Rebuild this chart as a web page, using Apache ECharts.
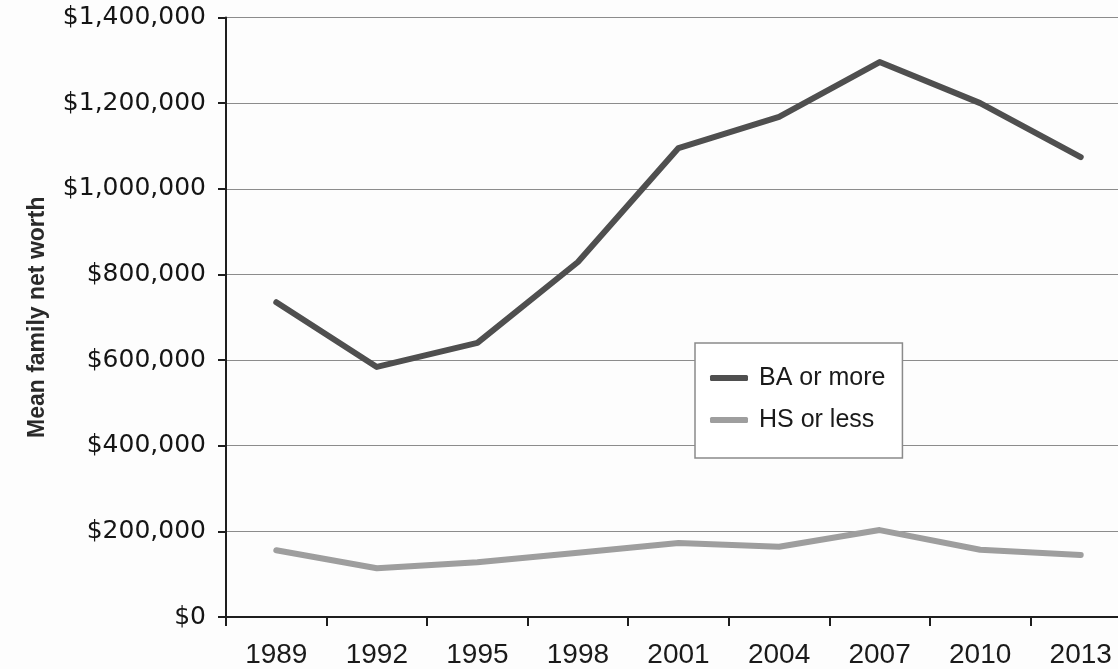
<!DOCTYPE html>
<html>
<head>
<meta charset="utf-8">
<title>Mean family net worth by education</title>
<script src="https://cdn.jsdelivr.net/npm/echarts@6/dist/echarts.min.js"></script>
<style>
  html, body { margin: 0; padding: 0; background: #fdfdfd; overflow: hidden; }
  /* plot runs slightly past the right edge of the window */
  #chart { width: 1131px; height: 669px; }
</style>
</head>
<body>
<div id="chart"></div>
<script>
// Survey years
const years = ['1989', '1992', '1995', '1998', '2001', '2004', '2007', '2010', '2013'];
// Mean family net worth, households headed by someone with a BA or more
const baOrMore = [735000, 584000, 640000, 829000, 1095000, 1168000, 1296000, 1200000, 1074000];
// Mean family net worth, households headed by someone with HS or less
const hsOrLess = [156000, 114000, 128000, 150000, 173000, 164000, 203000, 157000, 145000];
// Value axis range and step
const yMin = 0;
const yMax = 1400000;
const yStep = 200000;

const chart = echarts.init(document.getElementById('chart'), null, { renderer: 'canvas' });

const fmtDollar = v => '$' + v.toLocaleString('en-US');
const sans = 'Liberation Sans, Arial, Helvetica, sans-serif';

chart.setOption({
  backgroundColor: '#fdfdfd',
  animation: false,
  grid: { left: 226, top: 17.5, bottom: 52, right: 0, containLabel: false },
  legend: {
    orient: 'vertical',
    left: 695,
    top: 343,
    padding: [22, 17, 25, 15],
    itemWidth: 38,
    itemHeight: 6,
    itemGap: 16,
    backgroundColor: '#ffffff',
    borderColor: '#8a8a8a',
    borderWidth: 1.5,
    textStyle: { fontFamily: sans, fontSize: 25, lineHeight: 26, color: '#1a1a1a', padding: [0, 0, 0, 6] },
    data: [
      { name: 'BA or more', icon: 'roundRect' },
      { name: 'HS or less', icon: 'roundRect' }
    ]
  },
  xAxis: {
    type: 'category',
    data: years,
    boundaryGap: true,
    axisLine: { lineStyle: { color: '#1e1e1e', width: 2 } },
    axisTick: { show: true, length: 9, alignWithLabel: false, lineStyle: { color: '#1e1e1e', width: 2 } },
    axisLabel: { fontFamily: sans, fontSize: 28, color: '#1a1a1a', margin: 24 },
    splitLine: { show: false }
  },
  yAxis: {
    type: 'value',
    min: yMin,
    max: yMax,
    interval: yStep,
    name: 'Mean family net worth',
    nameLocation: 'middle',
    nameGap: 177,
    nameRotate: 90,
    nameTextStyle: { fontFamily: sans, fontWeight: 'bold', fontSize: 23, color: '#2a2a2a' },
    axisLine: { show: true, lineStyle: { color: '#1e1e1e', width: 2 } },
    axisTick: { show: true, length: 8, lineStyle: { color: '#1e1e1e', width: 2 } },
    axisLabel: { formatter: fmtDollar, fontFamily: 'DejaVu Sans, sans-serif', fontSize: 25, color: '#151515', margin: 20 },
    splitLine: { show: true, lineStyle: { color: '#8c8c8c', width: 1.2 } }
  },
  series: [
    {
      name: 'BA or more',
      type: 'line',
      data: baOrMore,
      symbol: 'none',
      lineStyle: { color: '#4f4f4f', width: 6, cap: 'round', join: 'round' },
      itemStyle: { color: '#4f4f4f' },
      z: 3
    },
    {
      name: 'HS or less',
      type: 'line',
      data: hsOrLess,
      symbol: 'none',
      lineStyle: { color: '#9e9e9e', width: 6, cap: 'round', join: 'round' },
      itemStyle: { color: '#9e9e9e' },
      z: 3
    }
  ]
});
</script>
</body>
</html>
